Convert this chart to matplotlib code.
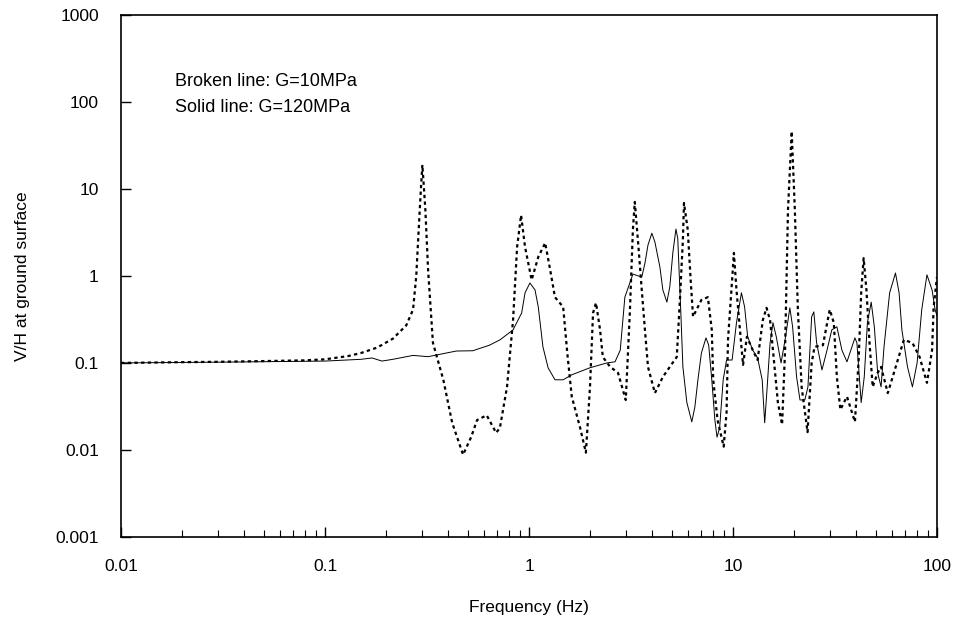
import numpy as np
import matplotlib.pyplot as plt
from matplotlib.ticker import LogLocator, FixedLocator, NullFormatter

plt.rcParams['font.family'] = ['Liberation Sans', 'DejaVu Sans']

# Broken line, G = 10 MPa
f_soft = [0.01, 0.02, 0.03, 0.05, 0.08, 0.1, 0.13, 0.15, 0.18, 0.215, 0.25, 0.27, 0.28, 0.286,
          0.295, 0.30, 0.31, 0.32, 0.338, 0.38, 0.42, 0.475, 0.52, 0.556, 0.62, 0.69, 0.72, 0.78,
          0.835, 0.874, 0.914, 0.956, 1.03, 1.11, 1.2, 1.27, 1.34, 1.47, 1.54, 1.62, 1.78, 1.9,
          1.99, 2.06, 2.13, 2.23, 2.3, 2.5, 2.73, 2.98, 3.12, 3.23, 3.3, 3.44, 3.57, 3.7, 3.83,
          4.14, 4.53, 4.9, 5.3, 5.5, 5.68, 5.75, 6.0, 6.2, 6.37, 7.0, 7.53, 7.87, 8.0, 8.4, 9.0,
          9.3, 9.45, 9.9, 10.1, 10.4, 11.0, 11.2, 11.7, 12.5, 13.2, 14.0, 14.6, 15.2, 15.7, 16.6,
          17.4, 18.0, 18.6, 19.4, 20.1, 20.8, 21.7, 23.2, 24.3, 25.1, 27.6, 29.8, 31.2, 32.3, 33.6,
          36.2, 39.6, 41.3, 42.5, 43.7, 45.1, 46.7, 48.4, 51.2, 53.2, 57.4, 63.6, 68.8, 75.8, 82.2,
          89.3, 94.6, 96.3, 100]
v_soft = [0.1, 0.102, 0.103, 0.105, 0.107, 0.11, 0.12, 0.13, 0.15, 0.19, 0.27, 0.41, 1.0, 2.6,
          10, 18.9, 6.0, 1.17, 0.17, 0.064, 0.0205, 0.0088, 0.014, 0.022, 0.025, 0.0157, 0.018, 0.053,
          0.31, 2.15, 5.0, 2.15, 0.9, 1.65, 2.4, 1.17, 0.57, 0.44, 0.13, 0.041, 0.018, 0.0093,
          0.053, 0.375, 0.49, 0.24, 0.117, 0.09, 0.077, 0.0375, 0.375, 3.4, 7.1, 2.15, 0.69, 0.24, 0.09,
          0.045, 0.069, 0.09, 0.117, 0.57, 2.6, 6.9, 3.4, 0.9, 0.34, 0.53, 0.57, 0.24, 0.064, 0.022, 0.0109,
          0.027, 0.184, 0.9, 1.84, 0.69, 0.153, 0.095, 0.2, 0.14, 0.108, 0.31, 0.43, 0.31, 0.14, 0.035,
          0.0195, 0.14, 5.7, 46, 5.7, 0.41, 0.053, 0.016, 0.1, 0.153, 0.16, 0.41, 0.29, 0.069, 0.029,
          0.041, 0.021, 0.108, 0.64, 1.6, 0.69, 0.17, 0.053, 0.077, 0.09, 0.045, 0.1, 0.184, 0.17, 0.117,
          0.059, 0.14, 0.44, 0.97]

# Solid line, G = 120 MPa
f_stiff = [0.01, 0.03, 0.1, 0.15, 0.17, 0.19, 0.215, 0.27, 0.32, 0.44, 0.53, 0.64, 0.72, 0.835,
           0.92, 0.956, 1.01, 1.07, 1.11, 1.17, 1.24, 1.34, 1.47, 1.62, 1.99, 2.41, 2.64, 2.8, 2.95,
           3.23, 3.57, 3.7, 3.83, 4.0, 4.14, 4.38, 4.53, 4.74, 4.9, 5.07, 5.25, 5.36, 5.55, 5.68,
           5.94, 6.28, 6.5, 6.73, 7.0, 7.37, 7.6, 7.87, 8.15, 8.35, 8.6, 8.95, 9.3, 9.9, 10.4, 11.0,
           11.4, 11.8, 12.5, 13.2, 13.9, 14.3, 14.6, 15.2, 15.7, 16.3, 17.2, 18.0, 19.0, 19.6, 20.5,
           21.3, 22.5, 23.3, 24.3, 24.9, 25.7, 27.3, 28.9, 30.5, 32.3, 34.2, 36.2, 39.6, 40.5, 42.5,
           44.0, 45.6, 47.6, 49.3, 51.2, 53.2, 55.0, 58.6, 62.6, 65.2, 67.3, 71.7, 75.8, 79.9, 84.2,
           89.3, 94.6, 97.9, 100]
v_stiff = [0.1, 0.102, 0.105, 0.11, 0.114, 0.105, 0.11, 0.122, 0.118, 0.137, 0.138, 0.16, 0.184, 0.24,
           0.375, 0.64, 0.83, 0.69, 0.44, 0.153, 0.088, 0.064, 0.064, 0.073, 0.088, 0.1, 0.103, 0.14, 0.57,
           1.05, 0.97, 1.4, 2.27, 3.1, 2.46, 1.27, 0.69, 0.5, 0.75, 1.84, 3.46, 2.7, 0.375, 0.09,
           0.035, 0.021, 0.031, 0.064, 0.13, 0.194, 0.16, 0.064, 0.022, 0.014, 0.018, 0.064, 0.108, 0.108,
           0.29, 0.64, 0.44, 0.2, 0.14, 0.114, 0.064, 0.0205, 0.041, 0.17, 0.29, 0.2, 0.1, 0.184, 0.43,
           0.26, 0.069, 0.0375, 0.0375, 0.053, 0.34, 0.386, 0.17, 0.083, 0.14, 0.24, 0.26, 0.14, 0.103,
           0.194, 0.17, 0.035, 0.069, 0.29, 0.5, 0.26, 0.077, 0.053, 0.153, 0.64, 1.08, 0.64, 0.24, 0.09,
           0.053, 0.1, 0.41, 1.03, 0.69, 0.41, 0.35]

y_ticks = [0.001, 0.01, 0.1, 1, 10, 100, 1000]
y_labels = ['0.001', '0.01', '0.1', '1', '10', '100', '1000']
x_ticks = [0.01, 0.1, 1, 10, 100]
x_labels = ['0.01', '0.1', '1', '10', '100']

fig = plt.figure(figsize=(9.61, 6.25), dpi=100)
ax = fig.add_axes([0.126, 0.141, 0.849, 0.835])

ax.plot(f_soft, v_soft, color='black', linewidth=1.6, linestyle=(0, (1.5, 1.5)))
ax.plot(f_stiff, v_stiff, color='black', linewidth=0.7, solid_joinstyle='round')

ax.set_xscale('log')
ax.set_yscale('log')
ax.set_xlim(0.01, 100)
ax.set_ylim(0.001, 1000)

ax.xaxis.set_major_locator(FixedLocator(x_ticks))
ax.set_xticklabels(x_labels)
ax.xaxis.set_minor_locator(LogLocator(base=10, subs=np.arange(2, 10)))
ax.xaxis.set_minor_formatter(NullFormatter())
ax.yaxis.set_major_locator(FixedLocator(y_ticks))
ax.set_yticklabels(y_labels)
ax.yaxis.set_minor_locator(FixedLocator([]))

ax.tick_params(axis='both', which='major', direction='in', length=7, width=1, labelsize=12.5)
ax.tick_params(axis='x', which='minor', direction='in', length=5, width=0.8)
ax.tick_params(axis='x', which='major', pad=16)
ax.tick_params(axis='y', which='major', pad=16)

for s in ax.spines.values():
    s.set_linewidth(1.2)

ax.set_xlabel('Frequency (Hz)', fontsize=12.5, labelpad=19)
ax.set_ylabel('V/H at ground surface', fontsize=12.5, labelpad=18)

ax.text(0.066, 0.873, 'Broken line: G=10MPa', transform=ax.transAxes, fontsize=13, va='center')
ax.text(0.066, 0.823, 'Solid line: G=120MPa', transform=ax.transAxes, fontsize=13, va='center')

fig.savefig('out.png', dpi=100)
